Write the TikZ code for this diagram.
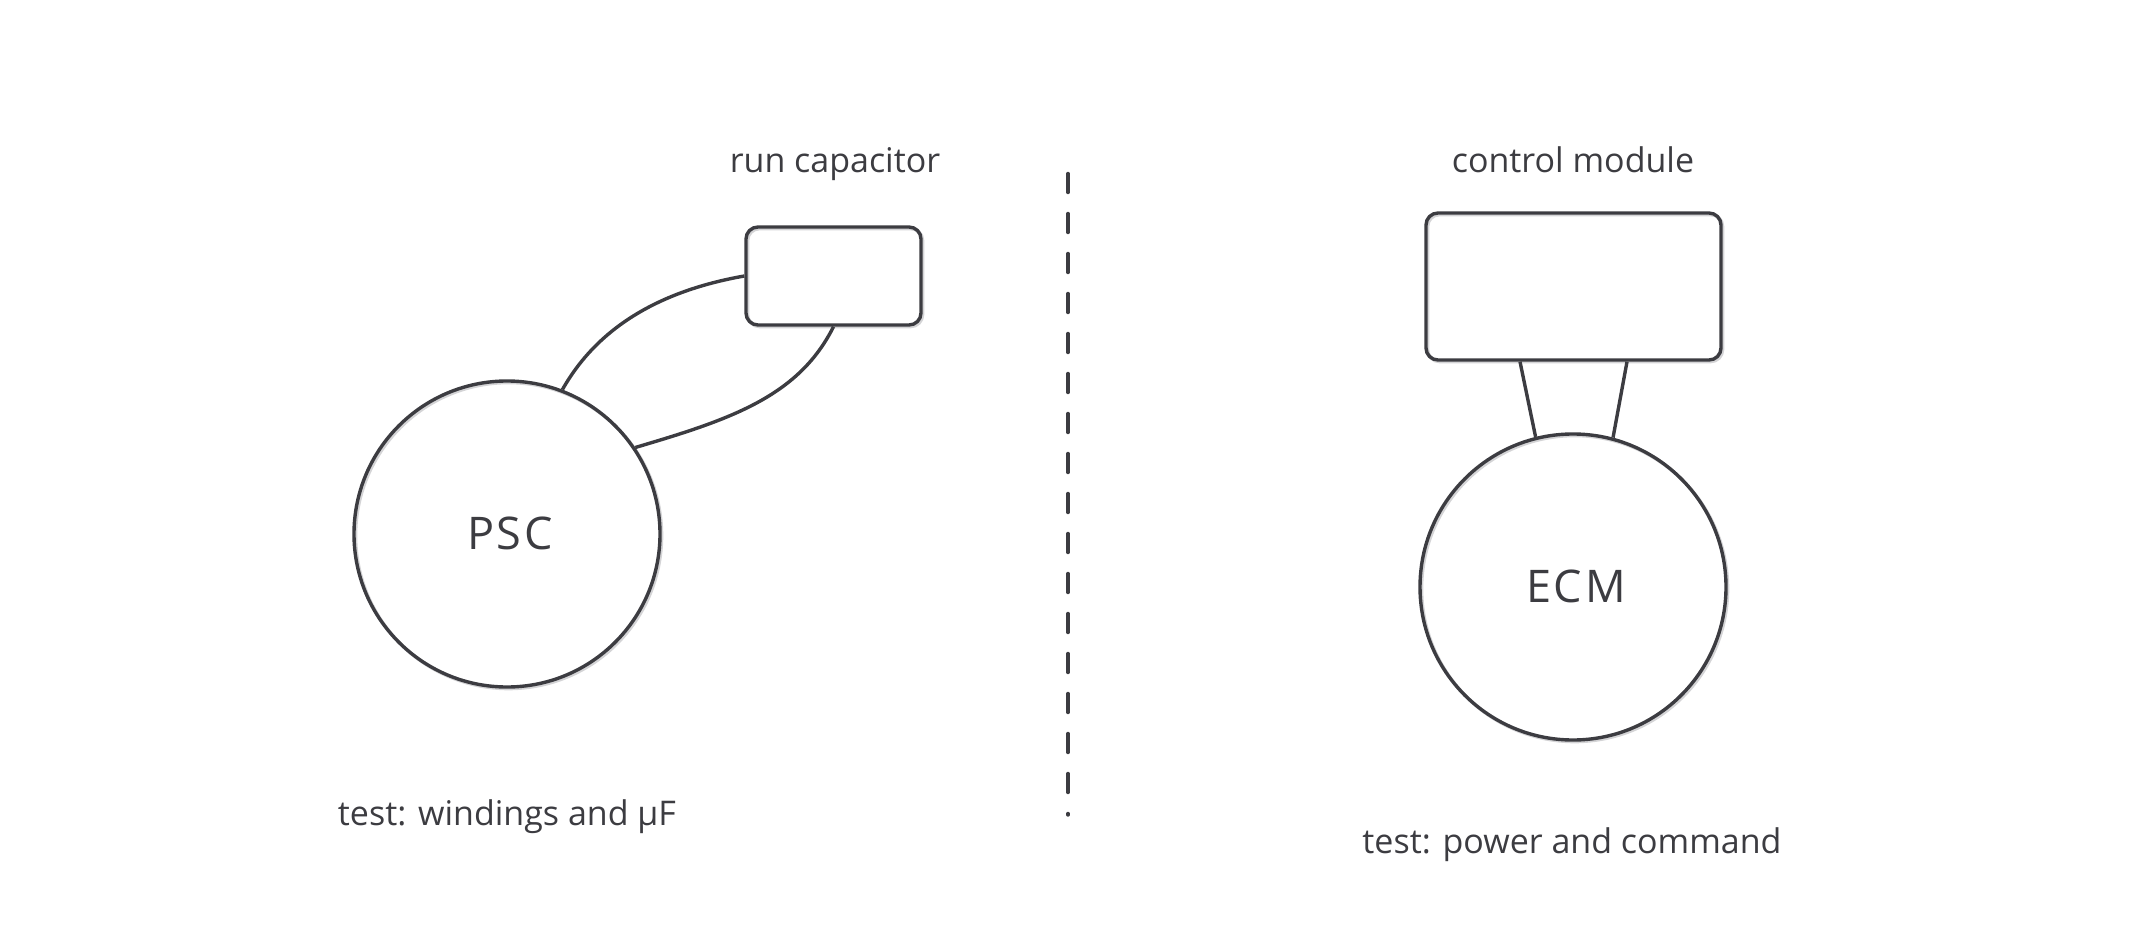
\documentclass[tikz,border=0pt]{standalone}
\usepackage{fontspec}
\setmainfont{Open Sans}
\newfontfamily\widefont[LetterSpace=6]{Open Sans}
\usetikzlibrary{calc}
\definecolor{ink}{HTML}{3C3C41}
\definecolor{shade}{HTML}{D4D4D6}
\begin{document}
\begin{tikzpicture}[x=1pt,y=-1pt,
  every node/.style={text=ink},
  shape line/.style={draw=ink, line width=3.4pt,
    preaction={draw=shade, line width=3.4pt, transform canvas={shift={(1.6pt,-1.6pt)}}}},
  motor/.style={shape line, circle, minimum size=306pt, inner sep=0pt},
  bigtext/.style={anchor=base, inner sep=0pt, font=\widefont\fontsize{45}{54}\selectfont},
  box/.style={shape line, rectangle, rounded corners=12pt, inner sep=0pt},
  wire/.style={draw=ink, line width=3.4pt},
  lbl/.style={anchor=base, inner sep=0pt, font=\fontsize{34}{40}\selectfont},
  divider/.style={draw=ink, line width=3.4pt, line cap=round, dash pattern=on 19pt off 21pt}
]
\useasboundingbox (0,0) rectangle (2133,933);

% left side: PSC motor
\node[motor] (psc) at (507,534) {};
\node[bigtext] (psclbl) at (510,549) {PSC};
\node[box, minimum width=175pt, minimum height=98pt] (cap) at (833.5,276) {};
\node[lbl] (captxt) at (835,173) {run capacitor};
\draw[wire] (psc.69.7) .. controls +(35,-62) and +(-85,15) .. (cap.west);
\draw[wire] (cap.south) .. controls +(-35,70) and +(95,-28) .. (psc.34.7);
\node[lbl] (psctest) at (507,825) {test: windings and µF};

% divider
\coordinate (dtop) at (1068,173.5);
\coordinate (dbot) at (1068,815);
\draw[divider] (dtop) -- (dbot);

% right side: ECM motor
\node[box, minimum width=295pt, minimum height=147pt] (cm) at (1573.5,286.5) {};
\node[lbl] (cmtxt) at (1573,173) {control module};
\node[motor] (ecm) at (1573,587) {};
\node[bigtext] (ecmlbl) at (1576,602) {ECM};
\draw[wire] ($(cm.south)+(-53.5,0)$) -- (ecm.104.3);
\draw[wire] ($(cm.south)+(53.5,0)$) -- (ecm.75.7);
\node[lbl] (ecmtest) at (1572,853) {test: power and command};
\end{tikzpicture}
\end{document}
